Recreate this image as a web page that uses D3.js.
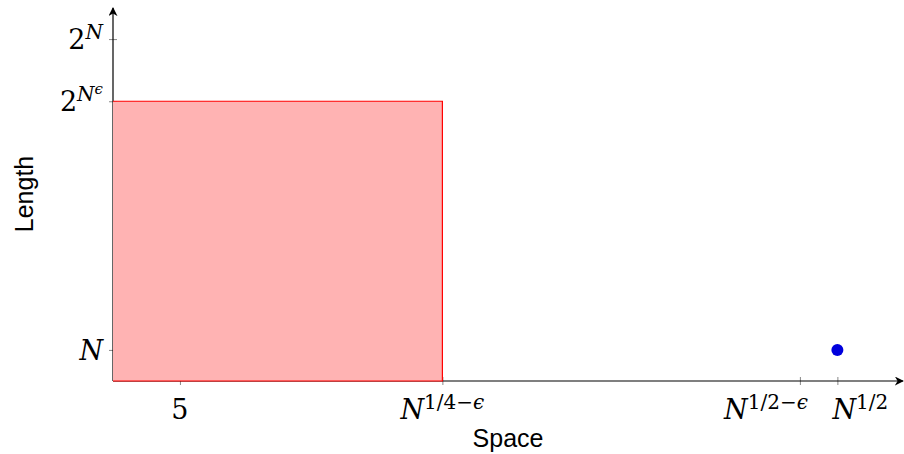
<!DOCTYPE html>
<html>
  <head>
    <script src="https://cdn.jsdelivr.net/npm/d3@7"></script>
    <style>
      body { margin: 0; background: #fff; }
    </style>
  </head>
  <body>
    <svg width="904" height="454" id="mainsvg"></svg>
    <script>
      const svg = d3.select('#mainsvg');

      // tick positions and their labels (segments: text, superscript level, italic)
      const xTickValues = [5, 24.6, 51.3, 54.1];
      const xTickLabels = [
        [['5', 0, false]],
        [['N', 0, true], ['1/4\u2212', 1, false], ['\u03f5', 1, true]],
        [['N', 0, true], ['1/2\u2212', 1, false], ['\u03f5', 1, true]],
        [['N', 0, true], ['1/2', 1, false]]
      ];
      const yTickValues = [1, 9, 11];
      const yTickLabels = [
        [['N', 0, true]],
        [['2', 0, false], ['N', 1, true], ['\u03f5', 2, true]],
        [['2', 0, false], ['N', 1, true]]
      ];
      // shaded region and the single point
      const regionX = [0, 24.6];
      const regionY = [0, 9];
      const pointX = [54.1];
      const pointY = [1];

      const xScale = d3.scaleLinear().domain([0, 59]).range([113, 903]);
      const yScale = d3.scaleLinear().domain([0, 12]).range([381, 8]);

      const mathFont = '"DejaVu Serif", "Liberation Serif", serif';
      const levelSize = [27, 20, 15];
      const levelRise = [0, 10, 17];

      const writeLabel = function(textSel, segs){
        textSel.text(null);
        let level = 0;
        segs.forEach(s => {
          const lvl = s[1];
          textSel.append('tspan')
            .attr('dy', levelRise[level] - levelRise[lvl])
            .attr('font-size', levelSize[lvl])
            .attr('font-style', s[2] ? 'italic' : 'normal')
            .text(s[0]);
          level = lvl;
        });
      };

      // axes (ticks only; lines drawn separately with arrows)
      const xAxis = d3.axisBottom(xScale).tickValues(xTickValues).tickSize(4).tickFormat('');
      const yAxis = d3.axisLeft(yScale).tickValues(yTickValues).tickSize(4).tickFormat('');

      const xg = svg.append('g').attr('transform', `translate(0, ${yScale(0)})`).call(xAxis);
      const yg = svg.append('g').attr('transform', `translate(${xScale(0)}, 0)`).call(yAxis);
      [xg, yg].forEach(g => {
        g.select('.domain').remove();
        g.selectAll('.tick line').attr('stroke', '#888').attr('stroke-width', 1);
      });
      xg.selectAll('.tick line').attr('y1', -4).attr('y2', 4);
      yg.selectAll('.tick line').attr('x1', -4).attr('x2', 4);

      const defs = svg.append('defs');
      defs.append('marker')
        .attr('id', 'arrow')
        .attr('viewBox', '0 0 10 10')
        .attr('refX', 9).attr('refY', 5)
        .attr('markerWidth', 9).attr('markerHeight', 9)
        .attr('markerUnits', 'userSpaceOnUse')
        .attr('orient', 'auto')
        .append('path')
        .attr('d', 'M0,0 L10,5 L0,10 L3,5 Z')
        .attr('fill', '#000');

      svg.append('line')
        .attr('x1', xScale(0)).attr('x2', xScale.range()[1])
        .attr('y1', yScale(0)).attr('y2', yScale(0))
        .attr('stroke', '#000').attr('stroke-width', 1.2)
        .attr('marker-end', 'url(#arrow)');
      svg.append('line')
        .attr('x1', xScale(0)).attr('x2', xScale(0))
        .attr('y1', yScale(0)).attr('y2', yScale.range()[1])
        .attr('stroke', '#000').attr('stroke-width', 1.2)
        .attr('marker-end', 'url(#arrow)');

      // shaded region
      svg.append('rect')
        .attr('x', xScale(regionX[0]))
        .attr('y', yScale(regionY[1]))
        .attr('width', xScale(regionX[1]) - xScale(regionX[0]))
        .attr('height', yScale(regionY[0]) - yScale(regionY[1]))
        .attr('fill', '#ffb3b3');
      svg.append('path')
        .attr('d', `M${xScale(regionX[0])},${yScale(regionY[1])} H${xScale(regionX[1])} V${yScale(regionY[0])} H${xScale(regionX[0])}`)
        .attr('fill', 'none')
        .attr('stroke', '#ff0000')
        .attr('stroke-width', 1.2);

      // point
      svg.selectAll('.pt')
        .data(pointX.map((d, i) => [d, pointY[i]]))
        .join('circle')
        .attr('class', 'pt')
        .attr('cx', d => xScale(d[0]))
        .attr('cy', d => yScale(d[1]))
        .attr('r', 6)
        .attr('fill', '#0000dd');

      // tick labels; the two close ones are pushed apart
      const xLabelAnchor = ['middle', 'middle', 'end', 'start'];
      const xLabelShift = [0, 0, 8, -5];
      xTickValues.forEach((v, i) => {
        const t = svg.append('text')
          .attr('x', xScale(v) + xLabelShift[i])
          .attr('y', 419)
          .attr('text-anchor', xLabelAnchor[i])
          .attr('font-family', mathFont)
          .attr('fill', '#000');
        writeLabel(t, xTickLabels[i]);
      });
      yTickValues.forEach((v, i) => {
        const t = svg.append('text')
          .attr('x', 103)
          .attr('y', yScale(v) + 10)
          .attr('text-anchor', 'end')
          .attr('font-family', mathFont)
          .attr('fill', '#000');
        writeLabel(t, yTickLabels[i]);
      });

      // axis titles
      svg.append('text')
        .attr('x', 508).attr('y', 447)
        .attr('text-anchor', 'middle')
        .attr('font-family', '"Liberation Sans", Arial, sans-serif')
        .attr('font-size', 25)
        .text('Space');
      svg.append('text')
        .attr('transform', 'translate(33, 194) rotate(-90)')
        .attr('text-anchor', 'middle')
        .attr('font-family', '"Liberation Sans", Arial, sans-serif')
        .attr('font-size', 25)
        .text('Length');
    </script>
  </body>
</html>
